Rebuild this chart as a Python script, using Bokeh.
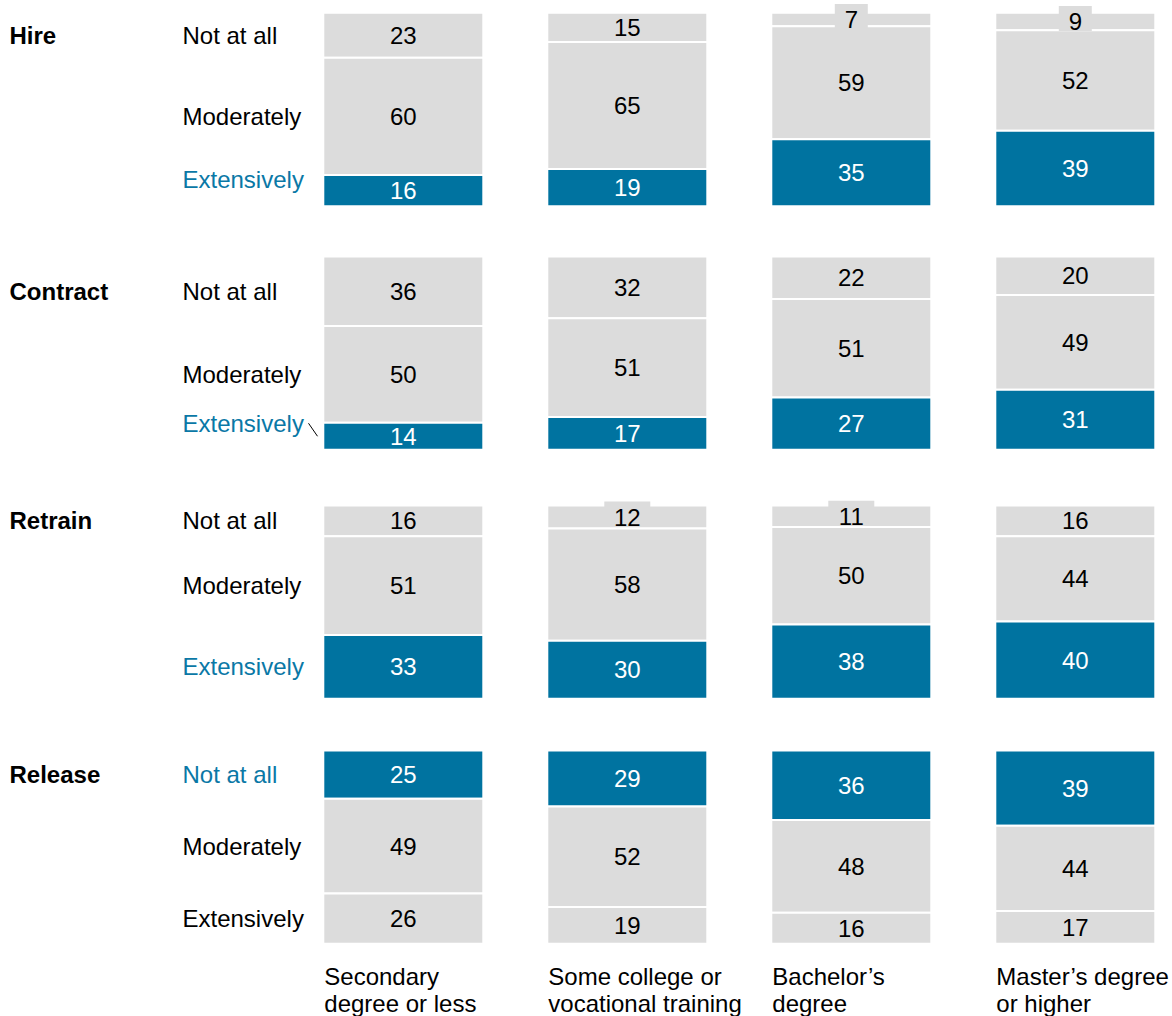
from bokeh.plotting import figure
from bokeh.models import Range1d
from bokeh.core.properties import value
from bokeh.embed import file_html
from bokeh.resources import INLINE

# ---------------- data ----------------
actions = ["Hire", "Contract", "Retrain", "Release"]
levels = ["Not at all", "Moderately", "Extensively"]
education = ["Secondary\ndegree or less",
             "Some college or\nvocational training",
             "Bachelor\u2019s\ndegree",
             "Master\u2019s degree\nor higher"]

hire_not_at_all = [23, 15, 7, 9]
hire_moderately = [60, 65, 59, 52]
hire_extensively = [16, 19, 35, 39]

contract_not_at_all = [36, 32, 22, 20]
contract_moderately = [50, 51, 51, 49]
contract_extensively = [14, 17, 27, 31]

retrain_not_at_all = [16, 12, 11, 16]
retrain_moderately = [51, 58, 50, 44]
retrain_extensively = [33, 30, 38, 40]

release_not_at_all = [25, 29, 36, 39]
release_moderately = [49, 52, 48, 44]
release_extensively = [26, 19, 16, 17]

highlighted = ["Extensively", "Extensively", "Extensively", "Not at all"]

series = {
    "Hire": [hire_not_at_all, hire_moderately, hire_extensively],
    "Contract": [contract_not_at_all, contract_moderately, contract_extensively],
    "Retrain": [retrain_not_at_all, retrain_moderately, retrain_extensively],
    "Release": [release_not_at_all, release_moderately, release_extensively],
}

# ---------------- layout / style ----------------
W, H = 1172, 1016
PX0, PY0 = 0, 0
S = 1.934                      # pixels per percentage point
ROW_BOTTOM_PX = [205.7, 449.3, 698.3, 943.3]
COL0_PX, COL_STEP = 402.8, 224.0
BAR_W = 160
BLUE = "#0073a0"
BLUE_TXT = "#0a78a6"
GRAY = "#dcdcdc"
FONT = value("Liberation Sans")
FS = "24px"
SMALL_LIMIT = 12
LABEL_X = 182
TITLE_X = 9
LABEL_NUDGE_PX = {("Hire", "Extensively"): 11, ("Contract", "Extensively"): 13}
LEADER = {("Contract", "Extensively"): (308, 317)}
EDU_BASELINES_PX = [975.5, 1003.0]


def ydata(page_y):
    return (PY0 + H - page_y) / S


p = figure(width=W, height=H, output_backend="svg", toolbar_location=None,
           x_range=Range1d(PX0, PX0 + W), y_range=Range1d(0, H / S),
           min_border=0, outline_line_color=None)
p.axis.visible = False
p.grid.visible = False

bx, bb, bt, bc = [], [], [], []
tx, ty, tt, tc = [], [], [], []
tab_x, tab_y, tab_w = [], [], []
cat_x, cat_y, cat_t, cat_c = [], [], [], []
ttl_x, ttl_y, ttl_t = [], [], []
seg_x0, seg_y0, seg_x1, seg_y1 = [], [], [], []

for r, act in enumerate(actions):
    base = ydata(ROW_BOTTOM_PX[r])
    vals = series[act]
    for c in range(4):
        cx = COL0_PX + c * COL_STEP
        v = [vals[k][c] for k in range(3)]
        tot = sum(v)
        sc = [x / tot * 100 for x in v]
        # bottom-up: extensively, moderately, not at all
        edges = {}
        y0 = base
        for k in [2, 1, 0]:
            y1 = y0 + sc[k]
            edges[k] = (y0, y1)
            y0 = y1
        for k in range(3):
            lo, hi = edges[k]
            hl = levels[k] == highlighted[r]
            bx.append(cx); bb.append(lo); bt.append(hi)
            bc.append(BLUE if hl else GRAY)
            mid = (lo + hi) / 2
            tx.append(cx); ty.append(mid); tt.append(str(v[k]))
            tc.append("white" if hl else "black")
            if v[k] <= SMALL_LIMIT:
                tab_x.append(cx); tab_y.append(mid + 3 / S)
                tab_w.append(20 + 13 * len(str(v[k])))
            if c == 0:
                ly = mid + LABEL_NUDGE_PX.get((act, levels[k]), 0) / S
                cat_x.append(LABEL_X); cat_y.append(ly); cat_t.append(levels[k])
                cat_c.append(BLUE_TXT if hl else "black")
                if k == 0:
                    ttl_x.append(TITLE_X); ttl_y.append(ly); ttl_t.append(act)
                if (act, levels[k]) in LEADER:
                    lx0, lx1 = LEADER[(act, levels[k])]
                    seg_x0.append(lx0); seg_y0.append(ly)
                    seg_x1.append(lx1); seg_y1.append(mid)

p.vbar(x=bx, width=BAR_W, bottom=bb, top=bt, fill_color=bc,
       line_color="white", line_width=2)
p.rect(x=tab_x, y=tab_y, width=tab_w, height=25, width_units="screen",
       height_units="screen", fill_color=GRAY, line_color=None)
p.text(x=tx, y=ty, text=tt, text_color=tc, text_font=FONT, text_font_size=FS,
       text_align="center", text_baseline="middle")
p.text(x=cat_x, y=cat_y, text=cat_t, text_color=cat_c, text_font=FONT,
       text_font_size=FS, text_align="left", text_baseline="middle")
p.text(x=ttl_x, y=ttl_y, text=ttl_t, text_color="black", text_font=FONT,
       text_font_size=FS, text_font_style="bold", text_align="left",
       text_baseline="middle")
p.segment(x0=seg_x0, y0=seg_y0, x1=seg_x1, y1=seg_y1, line_color="black",
          line_width=1)

ex, ey, et = [], [], []
for c, lab in enumerate(education):
    left = COL0_PX + c * COL_STEP - BAR_W / 2 + 1
    for i, line in enumerate(lab.split("\n")):
        ex.append(left); ey.append(ydata(EDU_BASELINES_PX[i])); et.append(line)
p.text(x=ex, y=ey, text=et, text_color="black", text_font=FONT,
       text_font_size=FS, text_align="left", text_baseline="alphabetic")

open("out.html", "w").write(file_html(p, INLINE))
